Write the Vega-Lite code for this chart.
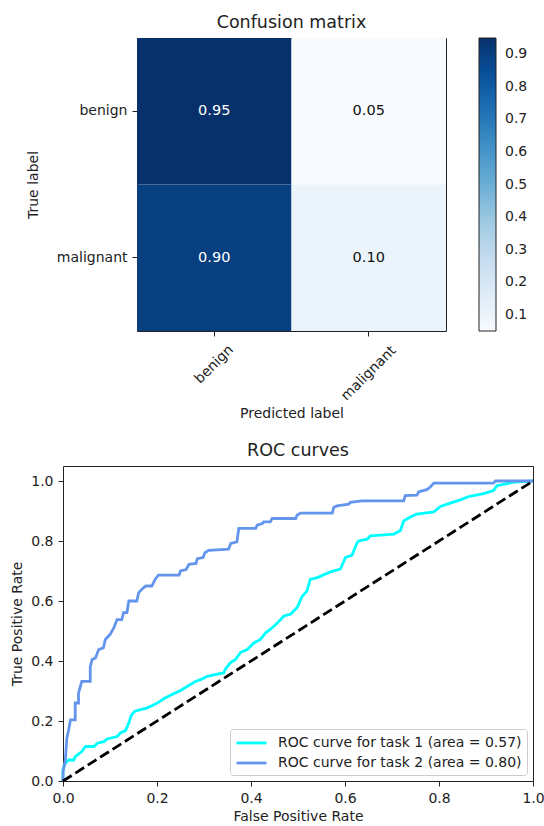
{
  "$schema": "https://vega.github.io/schema/vega-lite/v6.json",
  "background": "white",
  "padding": {"left": 10, "top": 13, "right": 0, "bottom": 0},
  "config": {
    "font": "DejaVu Sans",
    "view": {"stroke": "#222", "strokeWidth": 1},
    "axis": {"labelFontSize": 14, "titleFontSize": 14, "labelColor": "#222", "titleColor": "#222", "tickColor": "#222", "tickSize": 5, "labelPadding": 5, "domain": false, "grid": false, "titleFontWeight": "normal", "labelFlush": false},
    "title": {"fontSize": 17.5, "fontWeight": "normal", "color": "#222", "offset": 7, "frame": "group"}
  },
  "spacing": 19,
  "vconcat": [
    {
      "bounds": "flush",
      "spacing": 0,
      "hconcat": [
        {"width": 74, "height": 10, "data": {"values": []}, "mark": {"type": "point", "opacity": 0}, "view": {"stroke": null}},
        {
          "width": 309,
          "height": 293,
          "title": "Confusion matrix",
          "data": {"values": [
            {"actual": "benign", "predicted": "benign", "value": 0.95},
            {"actual": "benign", "predicted": "malignant", "value": 0.05},
            {"actual": "malignant", "predicted": "benign", "value": 0.90},
            {"actual": "malignant", "predicted": "malignant", "value": 0.10}
          ]},
          "encoding": {
            "x": {"field": "predicted", "type": "nominal", "sort": ["benign", "malignant"], "title": "Predicted label",
              "axis": {"labelAngle": -45, "labelAlign": "center", "labelBaseline": "middle",
                "labelPadding": {"condition": {"test": "datum.value == 'benign'", "value": 28}, "value": 37}, "titlePadding": 4}},
            "y": {"field": "actual", "type": "nominal", "sort": ["benign", "malignant"], "title": "True label", "axis": {"titlePadding": 16}}
          },
          "layer": [
            {"mark": "rect",
             "encoding": {"color": {"field": "value", "type": "quantitative",
               "scale": {"type": "linear", "domain": [0.05, 0.1625, 0.275, 0.3875, 0.5, 0.6125, 0.725, 0.8375, 0.95],
                 "range": ["#f7fbff", "#deebf7", "#c6dbef", "#9ecae1", "#6baed6", "#4292c6", "#2171b5", "#08519c", "#08306b"], "interpolate": "rgb"},
               "legend": {"title": null, "values": [0.1, 0.2, 0.3, 0.4, 0.5, 0.6, 0.7, 0.8, 0.9], "format": ".1f",
                 "gradientLength": 293, "gradientThickness": 17, "gradientStrokeColor": "#222", "gradientStrokeWidth": 1,
                 "labelFontSize": 14, "labelColor": "#222", "labelOffset": 9, "offset": 32, "direction": "vertical", "orient": "right", "padding": 0, "labelOverlap": false}}}},
            {"mark": {"type": "text", "fontSize": 14.5},
             "encoding": {"text": {"field": "value", "type": "quantitative", "format": ".2f"},
               "color": {"condition": {"test": "datum.value > 0.5", "value": "white"}, "value": "#111"}}}
          ]
        }
      ]
    },
    {
      "width": 470,
      "height": 315,
      "title": "ROC curves",
      "layer": [
        {
          "data": {"values": [
            {"curve": "ROC curve for task 1 (area = 0.57)", "i": 1, "fpr": 0, "tpr": 0},
            {"curve": "ROC curve for task 1 (area = 0.57)", "i": 2, "fpr": 0, "tpr": 0.04},
            {"curve": "ROC curve for task 1 (area = 0.57)", "i": 3, "fpr": 0.005, "tpr": 0.059},
            {"curve": "ROC curve for task 1 (area = 0.57)", "i": 4, "fpr": 0.012, "tpr": 0.07},
            {"curve": "ROC curve for task 1 (area = 0.57)", "i": 5, "fpr": 0.023, "tpr": 0.07},
            {"curve": "ROC curve for task 1 (area = 0.57)", "i": 6, "fpr": 0.026, "tpr": 0.081},
            {"curve": "ROC curve for task 1 (area = 0.57)", "i": 7, "fpr": 0.04, "tpr": 0.098},
            {"curve": "ROC curve for task 1 (area = 0.57)", "i": 8, "fpr": 0.048, "tpr": 0.115},
            {"curve": "ROC curve for task 1 (area = 0.57)", "i": 9, "fpr": 0.066, "tpr": 0.115},
            {"curve": "ROC curve for task 1 (area = 0.57)", "i": 10, "fpr": 0.073, "tpr": 0.126},
            {"curve": "ROC curve for task 1 (area = 0.57)", "i": 11, "fpr": 0.087, "tpr": 0.131},
            {"curve": "ROC curve for task 1 (area = 0.57)", "i": 12, "fpr": 0.094, "tpr": 0.14},
            {"curve": "ROC curve for task 1 (area = 0.57)", "i": 13, "fpr": 0.115, "tpr": 0.148},
            {"curve": "ROC curve for task 1 (area = 0.57)", "i": 14, "fpr": 0.122, "tpr": 0.16},
            {"curve": "ROC curve for task 1 (area = 0.57)", "i": 15, "fpr": 0.133, "tpr": 0.168},
            {"curve": "ROC curve for task 1 (area = 0.57)", "i": 16, "fpr": 0.14, "tpr": 0.193},
            {"curve": "ROC curve for task 1 (area = 0.57)", "i": 17, "fpr": 0.145, "tpr": 0.218},
            {"curve": "ROC curve for task 1 (area = 0.57)", "i": 18, "fpr": 0.152, "tpr": 0.232},
            {"curve": "ROC curve for task 1 (area = 0.57)", "i": 19, "fpr": 0.163, "tpr": 0.237},
            {"curve": "ROC curve for task 1 (area = 0.57)", "i": 20, "fpr": 0.178, "tpr": 0.243},
            {"curve": "ROC curve for task 1 (area = 0.57)", "i": 21, "fpr": 0.19, "tpr": 0.252},
            {"curve": "ROC curve for task 1 (area = 0.57)", "i": 22, "fpr": 0.203, "tpr": 0.262},
            {"curve": "ROC curve for task 1 (area = 0.57)", "i": 23, "fpr": 0.215, "tpr": 0.275},
            {"curve": "ROC curve for task 1 (area = 0.57)", "i": 24, "fpr": 0.232, "tpr": 0.288},
            {"curve": "ROC curve for task 1 (area = 0.57)", "i": 25, "fpr": 0.25, "tpr": 0.302},
            {"curve": "ROC curve for task 1 (area = 0.57)", "i": 26, "fpr": 0.264, "tpr": 0.315},
            {"curve": "ROC curve for task 1 (area = 0.57)", "i": 27, "fpr": 0.282, "tpr": 0.332},
            {"curve": "ROC curve for task 1 (area = 0.57)", "i": 28, "fpr": 0.293, "tpr": 0.338},
            {"curve": "ROC curve for task 1 (area = 0.57)", "i": 29, "fpr": 0.307, "tpr": 0.349},
            {"curve": "ROC curve for task 1 (area = 0.57)", "i": 30, "fpr": 0.328, "tpr": 0.356},
            {"curve": "ROC curve for task 1 (area = 0.57)", "i": 31, "fpr": 0.342, "tpr": 0.36},
            {"curve": "ROC curve for task 1 (area = 0.57)", "i": 32, "fpr": 0.346, "tpr": 0.374},
            {"curve": "ROC curve for task 1 (area = 0.57)", "i": 33, "fpr": 0.356, "tpr": 0.394},
            {"curve": "ROC curve for task 1 (area = 0.57)", "i": 34, "fpr": 0.367, "tpr": 0.405},
            {"curve": "ROC curve for task 1 (area = 0.57)", "i": 35, "fpr": 0.378, "tpr": 0.429},
            {"curve": "ROC curve for task 1 (area = 0.57)", "i": 36, "fpr": 0.392, "tpr": 0.438},
            {"curve": "ROC curve for task 1 (area = 0.57)", "i": 37, "fpr": 0.406, "tpr": 0.46},
            {"curve": "ROC curve for task 1 (area = 0.57)", "i": 38, "fpr": 0.42, "tpr": 0.472},
            {"curve": "ROC curve for task 1 (area = 0.57)", "i": 39, "fpr": 0.431, "tpr": 0.494},
            {"curve": "ROC curve for task 1 (area = 0.57)", "i": 40, "fpr": 0.441, "tpr": 0.505},
            {"curve": "ROC curve for task 1 (area = 0.57)", "i": 41, "fpr": 0.456, "tpr": 0.527},
            {"curve": "ROC curve for task 1 (area = 0.57)", "i": 42, "fpr": 0.47, "tpr": 0.55},
            {"curve": "ROC curve for task 1 (area = 0.57)", "i": 43, "fpr": 0.484, "tpr": 0.556},
            {"curve": "ROC curve for task 1 (area = 0.57)", "i": 44, "fpr": 0.498, "tpr": 0.578},
            {"curve": "ROC curve for task 1 (area = 0.57)", "i": 45, "fpr": 0.509, "tpr": 0.616},
            {"curve": "ROC curve for task 1 (area = 0.57)", "i": 46, "fpr": 0.519, "tpr": 0.633},
            {"curve": "ROC curve for task 1 (area = 0.57)", "i": 47, "fpr": 0.526, "tpr": 0.672},
            {"curve": "ROC curve for task 1 (area = 0.57)", "i": 48, "fpr": 0.541, "tpr": 0.678},
            {"curve": "ROC curve for task 1 (area = 0.57)", "i": 49, "fpr": 0.569, "tpr": 0.697},
            {"curve": "ROC curve for task 1 (area = 0.57)", "i": 50, "fpr": 0.59, "tpr": 0.706},
            {"curve": "ROC curve for task 1 (area = 0.57)", "i": 51, "fpr": 0.601, "tpr": 0.745},
            {"curve": "ROC curve for task 1 (area = 0.57)", "i": 52, "fpr": 0.615, "tpr": 0.753},
            {"curve": "ROC curve for task 1 (area = 0.57)", "i": 53, "fpr": 0.626, "tpr": 0.795},
            {"curve": "ROC curve for task 1 (area = 0.57)", "i": 54, "fpr": 0.629, "tpr": 0.8},
            {"curve": "ROC curve for task 1 (area = 0.57)", "i": 55, "fpr": 0.647, "tpr": 0.806},
            {"curve": "ROC curve for task 1 (area = 0.57)", "i": 56, "fpr": 0.654, "tpr": 0.817},
            {"curve": "ROC curve for task 1 (area = 0.57)", "i": 57, "fpr": 0.704, "tpr": 0.823},
            {"curve": "ROC curve for task 1 (area = 0.57)", "i": 58, "fpr": 0.718, "tpr": 0.835},
            {"curve": "ROC curve for task 1 (area = 0.57)", "i": 59, "fpr": 0.725, "tpr": 0.867},
            {"curve": "ROC curve for task 1 (area = 0.57)", "i": 60, "fpr": 0.739, "tpr": 0.88},
            {"curve": "ROC curve for task 1 (area = 0.57)", "i": 61, "fpr": 0.753, "tpr": 0.89},
            {"curve": "ROC curve for task 1 (area = 0.57)", "i": 62, "fpr": 0.789, "tpr": 0.897},
            {"curve": "ROC curve for task 1 (area = 0.57)", "i": 63, "fpr": 0.803, "tpr": 0.915},
            {"curve": "ROC curve for task 1 (area = 0.57)", "i": 64, "fpr": 0.824, "tpr": 0.926},
            {"curve": "ROC curve for task 1 (area = 0.57)", "i": 65, "fpr": 0.845, "tpr": 0.937},
            {"curve": "ROC curve for task 1 (area = 0.57)", "i": 66, "fpr": 0.865, "tpr": 0.949},
            {"curve": "ROC curve for task 1 (area = 0.57)", "i": 67, "fpr": 0.895, "tpr": 0.958},
            {"curve": "ROC curve for task 1 (area = 0.57)", "i": 68, "fpr": 0.916, "tpr": 0.968},
            {"curve": "ROC curve for task 1 (area = 0.57)", "i": 69, "fpr": 0.923, "tpr": 0.984},
            {"curve": "ROC curve for task 1 (area = 0.57)", "i": 70, "fpr": 0.94, "tpr": 0.99},
            {"curve": "ROC curve for task 1 (area = 0.57)", "i": 71, "fpr": 0.96, "tpr": 0.996},
            {"curve": "ROC curve for task 1 (area = 0.57)", "i": 72, "fpr": 1, "tpr": 1},
            {"curve": "ROC curve for task 2 (area = 0.80)", "i": 1, "fpr": 0, "tpr": 0},
            {"curve": "ROC curve for task 2 (area = 0.80)", "i": 2, "fpr": 0, "tpr": 0.03},
            {"curve": "ROC curve for task 2 (area = 0.80)", "i": 3, "fpr": 0.005, "tpr": 0.07},
            {"curve": "ROC curve for task 2 (area = 0.80)", "i": 4, "fpr": 0.008, "tpr": 0.14},
            {"curve": "ROC curve for task 2 (area = 0.80)", "i": 5, "fpr": 0.012, "tpr": 0.17},
            {"curve": "ROC curve for task 2 (area = 0.80)", "i": 6, "fpr": 0.016, "tpr": 0.204},
            {"curve": "ROC curve for task 2 (area = 0.80)", "i": 7, "fpr": 0.026, "tpr": 0.204},
            {"curve": "ROC curve for task 2 (area = 0.80)", "i": 8, "fpr": 0.026, "tpr": 0.26},
            {"curve": "ROC curve for task 2 (area = 0.80)", "i": 9, "fpr": 0.033, "tpr": 0.26},
            {"curve": "ROC curve for task 2 (area = 0.80)", "i": 10, "fpr": 0.033, "tpr": 0.293},
            {"curve": "ROC curve for task 2 (area = 0.80)", "i": 11, "fpr": 0.04, "tpr": 0.332},
            {"curve": "ROC curve for task 2 (area = 0.80)", "i": 12, "fpr": 0.058, "tpr": 0.332},
            {"curve": "ROC curve for task 2 (area = 0.80)", "i": 13, "fpr": 0.058, "tpr": 0.38},
            {"curve": "ROC curve for task 2 (area = 0.80)", "i": 14, "fpr": 0.062, "tpr": 0.405},
            {"curve": "ROC curve for task 2 (area = 0.80)", "i": 15, "fpr": 0.069, "tpr": 0.41},
            {"curve": "ROC curve for task 2 (area = 0.80)", "i": 16, "fpr": 0.076, "tpr": 0.438},
            {"curve": "ROC curve for task 2 (area = 0.80)", "i": 17, "fpr": 0.086, "tpr": 0.444},
            {"curve": "ROC curve for task 2 (area = 0.80)", "i": 18, "fpr": 0.09, "tpr": 0.472},
            {"curve": "ROC curve for task 2 (area = 0.80)", "i": 19, "fpr": 0.1, "tpr": 0.488},
            {"curve": "ROC curve for task 2 (area = 0.80)", "i": 20, "fpr": 0.108, "tpr": 0.51},
            {"curve": "ROC curve for task 2 (area = 0.80)", "i": 21, "fpr": 0.115, "tpr": 0.538},
            {"curve": "ROC curve for task 2 (area = 0.80)", "i": 22, "fpr": 0.125, "tpr": 0.538},
            {"curve": "ROC curve for task 2 (area = 0.80)", "i": 23, "fpr": 0.129, "tpr": 0.561},
            {"curve": "ROC curve for task 2 (area = 0.80)", "i": 24, "fpr": 0.136, "tpr": 0.561},
            {"curve": "ROC curve for task 2 (area = 0.80)", "i": 25, "fpr": 0.14, "tpr": 0.6},
            {"curve": "ROC curve for task 2 (area = 0.80)", "i": 26, "fpr": 0.157, "tpr": 0.6},
            {"curve": "ROC curve for task 2 (area = 0.80)", "i": 27, "fpr": 0.161, "tpr": 0.628},
            {"curve": "ROC curve for task 2 (area = 0.80)", "i": 28, "fpr": 0.168, "tpr": 0.639},
            {"curve": "ROC curve for task 2 (area = 0.80)", "i": 29, "fpr": 0.176, "tpr": 0.65},
            {"curve": "ROC curve for task 2 (area = 0.80)", "i": 30, "fpr": 0.189, "tpr": 0.65},
            {"curve": "ROC curve for task 2 (area = 0.80)", "i": 31, "fpr": 0.196, "tpr": 0.672},
            {"curve": "ROC curve for task 2 (area = 0.80)", "i": 32, "fpr": 0.203, "tpr": 0.686},
            {"curve": "ROC curve for task 2 (area = 0.80)", "i": 33, "fpr": 0.247, "tpr": 0.686},
            {"curve": "ROC curve for task 2 (area = 0.80)", "i": 34, "fpr": 0.25, "tpr": 0.7},
            {"curve": "ROC curve for task 2 (area = 0.80)", "i": 35, "fpr": 0.262, "tpr": 0.705},
            {"curve": "ROC curve for task 2 (area = 0.80)", "i": 36, "fpr": 0.268, "tpr": 0.722},
            {"curve": "ROC curve for task 2 (area = 0.80)", "i": 37, "fpr": 0.283, "tpr": 0.725},
            {"curve": "ROC curve for task 2 (area = 0.80)", "i": 38, "fpr": 0.286, "tpr": 0.741},
            {"curve": "ROC curve for task 2 (area = 0.80)", "i": 39, "fpr": 0.298, "tpr": 0.745},
            {"curve": "ROC curve for task 2 (area = 0.80)", "i": 40, "fpr": 0.302, "tpr": 0.761},
            {"curve": "ROC curve for task 2 (area = 0.80)", "i": 41, "fpr": 0.31, "tpr": 0.769},
            {"curve": "ROC curve for task 2 (area = 0.80)", "i": 42, "fpr": 0.352, "tpr": 0.773},
            {"curve": "ROC curve for task 2 (area = 0.80)", "i": 43, "fpr": 0.357, "tpr": 0.792},
            {"curve": "ROC curve for task 2 (area = 0.80)", "i": 44, "fpr": 0.37, "tpr": 0.797},
            {"curve": "ROC curve for task 2 (area = 0.80)", "i": 45, "fpr": 0.374, "tpr": 0.842},
            {"curve": "ROC curve for task 2 (area = 0.80)", "i": 46, "fpr": 0.41, "tpr": 0.842},
            {"curve": "ROC curve for task 2 (area = 0.80)", "i": 47, "fpr": 0.413, "tpr": 0.853},
            {"curve": "ROC curve for task 2 (area = 0.80)", "i": 48, "fpr": 0.424, "tpr": 0.858},
            {"curve": "ROC curve for task 2 (area = 0.80)", "i": 49, "fpr": 0.427, "tpr": 0.864},
            {"curve": "ROC curve for task 2 (area = 0.80)", "i": 50, "fpr": 0.441, "tpr": 0.864},
            {"curve": "ROC curve for task 2 (area = 0.80)", "i": 51, "fpr": 0.445, "tpr": 0.875},
            {"curve": "ROC curve for task 2 (area = 0.80)", "i": 52, "fpr": 0.495, "tpr": 0.875},
            {"curve": "ROC curve for task 2 (area = 0.80)", "i": 53, "fpr": 0.498, "tpr": 0.886},
            {"curve": "ROC curve for task 2 (area = 0.80)", "i": 54, "fpr": 0.505, "tpr": 0.893},
            {"curve": "ROC curve for task 2 (area = 0.80)", "i": 55, "fpr": 0.573, "tpr": 0.893},
            {"curve": "ROC curve for task 2 (area = 0.80)", "i": 56, "fpr": 0.576, "tpr": 0.912},
            {"curve": "ROC curve for task 2 (area = 0.80)", "i": 57, "fpr": 0.583, "tpr": 0.917},
            {"curve": "ROC curve for task 2 (area = 0.80)", "i": 58, "fpr": 0.608, "tpr": 0.923},
            {"curve": "ROC curve for task 2 (area = 0.80)", "i": 59, "fpr": 0.611, "tpr": 0.929},
            {"curve": "ROC curve for task 2 (area = 0.80)", "i": 60, "fpr": 0.636, "tpr": 0.934},
            {"curve": "ROC curve for task 2 (area = 0.80)", "i": 61, "fpr": 0.725, "tpr": 0.934},
            {"curve": "ROC curve for task 2 (area = 0.80)", "i": 62, "fpr": 0.728, "tpr": 0.951},
            {"curve": "ROC curve for task 2 (area = 0.80)", "i": 63, "fpr": 0.753, "tpr": 0.953},
            {"curve": "ROC curve for task 2 (area = 0.80)", "i": 64, "fpr": 0.757, "tpr": 0.964},
            {"curve": "ROC curve for task 2 (area = 0.80)", "i": 65, "fpr": 0.774, "tpr": 0.971},
            {"curve": "ROC curve for task 2 (area = 0.80)", "i": 66, "fpr": 0.781, "tpr": 0.979},
            {"curve": "ROC curve for task 2 (area = 0.80)", "i": 67, "fpr": 0.789, "tpr": 0.993},
            {"curve": "ROC curve for task 2 (area = 0.80)", "i": 68, "fpr": 0.916, "tpr": 0.993},
            {"curve": "ROC curve for task 2 (area = 0.80)", "i": 69, "fpr": 0.92, "tpr": 1},
            {"curve": "ROC curve for task 2 (area = 0.80)", "i": 70, "fpr": 1, "tpr": 1}
          ]},
          "mark": {"type": "line", "strokeWidth": 2.8},
          "encoding": {
            "x": {"field": "fpr", "type": "quantitative", "scale": {"domain": [0, 1], "nice": false},
              "axis": {"values": [0, 0.2, 0.4, 0.6, 0.8, 1], "format": ".1f", "title": "False Positive Rate", "titlePadding": 4}},
            "y": {"field": "tpr", "type": "quantitative", "scale": {"domain": [0, 1.05], "nice": false},
              "axis": {"values": [0, 0.2, 0.4, 0.6, 0.8, 1], "format": ".1f", "title": "True Positive Rate", "titlePadding": 6}},
            "color": {"field": "curve", "type": "nominal",
              "scale": {"domain": ["ROC curve for task 1 (area = 0.57)", "ROC curve for task 2 (area = 0.80)"], "range": ["#00ffff", "#6495ed"]},
              "legend": {"title": null, "orient": "bottom-right", "offset": 6, "padding": 5, "fillColor": "rgba(255,255,255,0.8)", "strokeColor": "#cccccc", "cornerRadius": 3,
                "labelFontSize": 14, "labelColor": "#222", "labelLimit": 400, "symbolType": "M-1,0H3", "symbolSize": 225, "symbolStrokeWidth": 2.8, "labelOffset": 25, "rowPadding": 4}},
            "order": {"field": "i", "type": "quantitative"}
          }
        },
        {
          "data": {"values": [{"fpr": 0, "tpr": 0}, {"fpr": 1, "tpr": 1}]},
          "mark": {"type": "line", "color": "black", "strokeDash": [10.3, 4.4], "strokeWidth": 2.8},
          "encoding": {
            "x": {"field": "fpr", "type": "quantitative"},
            "y": {"field": "tpr", "type": "quantitative"}
          }
        }
      ]
    }
  ]
}
